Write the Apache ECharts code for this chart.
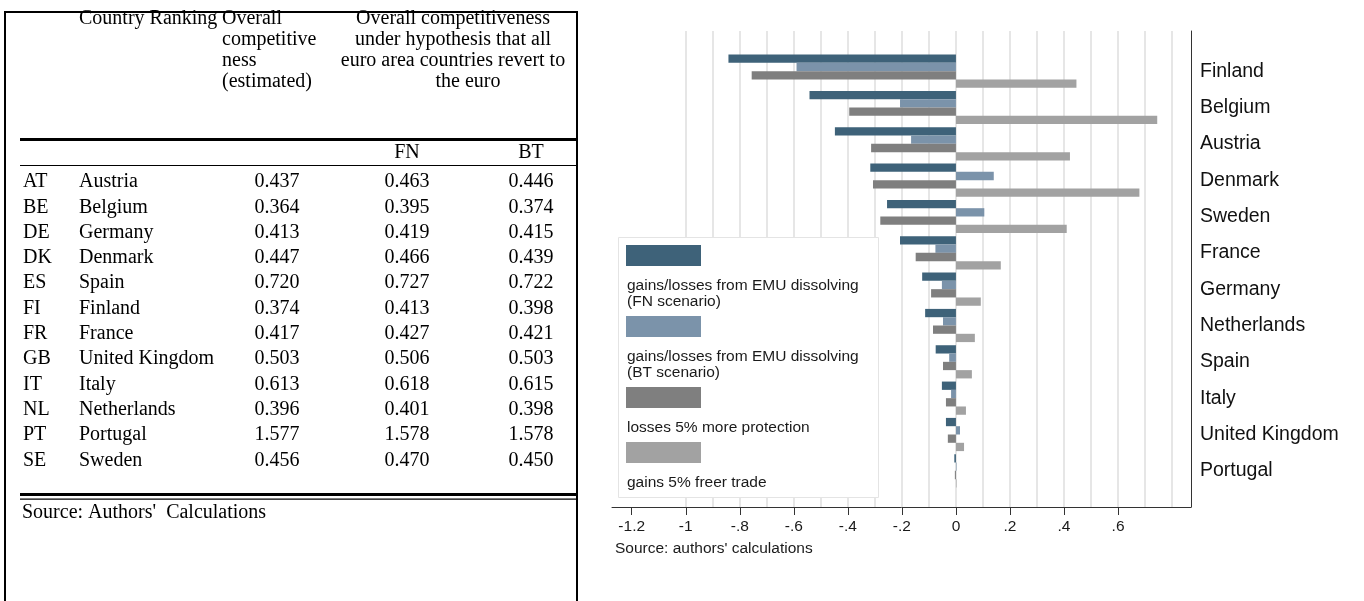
<!DOCTYPE html>
<html>
<head>
<meta charset="utf-8">
<script src="https://cdn.jsdelivr.net/npm/echarts@6/dist/echarts.min.js"></script>
<style>
  html, body { margin: 0; padding: 0; background: #fff; }
  #main { width: 1364px; height: 601px; }
</style>
</head>
<body>
<div id="main"></div>
<script>
// ---- Table: overall competitiveness by country ----
const tableCodes = ['AT', 'BE', 'DE', 'DK', 'ES', 'FI', 'FR', 'GB', 'IT', 'NL', 'PT', 'SE'];
const tableCountries = ['Austria', 'Belgium', 'Germany', 'Denmark', 'Spain', 'Finland', 'France',
  'United Kingdom', 'Italy', 'Netherlands', 'Portugal', 'Sweden'];
const overallEstimated = [0.437, 0.364, 0.413, 0.447, 0.720, 0.374, 0.417, 0.503, 0.613, 0.396, 1.577, 0.456];
const overallFN = [0.463, 0.395, 0.419, 0.466, 0.727, 0.413, 0.427, 0.506, 0.618, 0.401, 1.578, 0.470];
const overallBT = [0.446, 0.374, 0.415, 0.439, 0.722, 0.398, 0.421, 0.503, 0.615, 0.398, 1.578, 0.450];
const tableSource = "Source: Authors'  Calculations";

// ---- Bar chart: gains and losses by country ----
const categories = ['Finland', 'Belgium', 'Austria', 'Denmark', 'Sweden', 'France', 'Germany',
  'Netherlands', 'Spain', 'Italy', 'United Kingdom', 'Portugal'];
const emuFN = [-0.842, -0.542, -0.448, -0.317, -0.255, -0.207, -0.125, -0.114, -0.075, -0.052, -0.037, -0.006];
const emuBT = [-0.590, -0.207, -0.166, 0.140, 0.105, -0.076, -0.052, -0.048, -0.025, -0.018, 0.015, 0.002];
const moreProtection = [-0.756, -0.395, -0.314, -0.307, -0.280, -0.149, -0.092, -0.085, -0.048, -0.037, -0.030, -0.004];
const freerTrade = [0.446, 0.745, 0.422, 0.679, 0.410, 0.166, 0.092, 0.070, 0.059, 0.037, 0.030, 0.002];
const seriesNames = [
  'gains/losses from EMU dissolving\n(FN scenario)',
  'gains/losses from EMU dissolving\n(BT scenario)',
  'losses 5% more protection',
  'gains 5% freer trade'
];
const xTickValues = [-1.2, -1, -0.8, -0.6, -0.4, -0.2, 0, 0.2, 0.4, 0.6];
const xTickLabels = ['-1.2', '-1', '-.8', '-.6', '-.4', '-.2', '0', '.2', '.4', '.6'];
const xGridValues = [-1.0, -0.9, -0.8, -0.7, -0.6, -0.5, -0.4, -0.3, -0.2, -0.1, 0,
  0.1, 0.2, 0.3, 0.4, 0.5, 0.6, 0.7, 0.8];
const chartSource = "Source: authors' calculations";

// ---- styling ----
const SERIF = '"Liberation Serif", "Times New Roman", serif';
const SANS = '"Liberation Sans", Arial, Helvetica, sans-serif';
const barColors = ['#3e6279', '#7b93aa', '#7f7f7f', '#a2a2a2'];
const X_MIN = -1.273, X_MAX = 0.87;

const graphics = [];
function hline(x, y, w, h) {
  graphics.push({ type: 'rect', shape: { x: x, y: y, width: w, height: h }, style: { fill: '#000' }, z: 50 });
}
function txt(s, x, y, opts) {
  graphics.push({
    type: 'text', x: x, y: y, z: 50,
    style: Object.assign({ text: s, font: '20px ' + SERIF, fill: '#000', align: 'left', verticalAlign: 'middle' }, opts || {})
  });
}

// table frame
hline(4, 11, 574, 2);     // top
hline(4, 11, 2, 600);     // left
hline(576, 11, 2, 600);   // right

// header
txt('Country Ranking', 79, 19);
['Overall', 'competitive', 'ness', '(estimated)'].forEach((s, i) => txt(s, 222, 19 + i * 21));
['Overall competitiveness', 'under hypothesis that all', 'euro area countries revert to']
  .forEach((s, i) => txt(s, 453, 19 + i * 21, { align: 'center' }));
txt('the euro', 468, 82, { align: 'center' });
hline(20, 138, 557, 3);
txt('FN', 407, 153, { align: 'center' });
txt('BT', 531, 153, { align: 'center' });
hline(20, 165, 557, 1);

// rows
const rowY0 = 182, rowStep = 25.3;
tableCodes.forEach((code, i) => {
  const y = rowY0 + i * rowStep;
  txt(code, 23, y);
  txt(tableCountries[i], 79, y);
  txt(overallEstimated[i].toFixed(3), 277, y, { align: 'center' });
  txt(overallFN[i].toFixed(3), 407, y, { align: 'center' });
  txt(overallBT[i].toFixed(3), 531, y, { align: 'center' });
});
hline(20, 493, 557, 3);
hline(20, 498.5, 557, 1.2);
txt(tableSource, 22, 513);

// legend box for the bar chart
graphics.push({
  type: 'rect', z: 60,
  shape: { x: 618.5, y: 237.5, width: 260, height: 260 },
  style: { fill: '#fff', stroke: '#e4e4e4', lineWidth: 1 }
});
const legendSwatchY = [245, 316, 387, 442];
const legendTextY = [277, 348, 419, 474];
seriesNames.forEach((name, i) => {
  graphics.push({
    type: 'rect', z: 61,
    shape: { x: 626, y: legendSwatchY[i], width: 75, height: 21 },
    style: { fill: barColors[i] }
  });
  graphics.push({
    type: 'text', x: 627, y: legendTextY[i], z: 61,
    style: { text: name, font: '15.5px ' + SANS, fill: '#1a1a1a', align: 'left', verticalAlign: 'top', lineHeight: 16.5 }
  });
});
graphics.push({
  type: 'text', x: 615, y: 549, z: 61,
  style: { text: chartSource, font: '15.5px ' + SANS, fill: '#1a1a1a', align: 'left', verticalAlign: 'middle' }
});

const barSeries = [emuFN, emuBT, moreProtection, freerTrade].map((vals, i) => ({
  type: 'bar',
  name: seriesNames[i],
  xAxisIndex: 1,
  yAxisIndex: 1,
  data: vals,
  barWidth: 8.3,
  barGap: '0%',
  z: 5,
  silent: true,
  itemStyle: { color: barColors[i] }
}));

const option = {
  animation: false,
  backgroundColor: '#fff',
  grid: [
    { left: 612, right: 173, top: 31, bottom: 94 },
    { left: 612, right: 173, top: 53, bottom: 112 }
  ],
  xAxis: [
    {
      gridIndex: 0, type: 'value', min: X_MIN, max: X_MAX,
      axisLine: { show: true, onZero: false, lineStyle: { color: '#333', width: 1 } },
      axisTick: { show: true, customValues: xTickValues, length: 8, lineStyle: { color: '#333', width: 1 } },
      axisLabel: {
        customValues: xTickValues,
        formatter: v => {
          const k = xTickValues.findIndex(t => Math.abs(t - v) < 1e-9);
          return k >= 0 ? xTickLabels[k] : '';
        },
        fontSize: 15.5, fontFamily: SANS, color: '#1a1a1a', margin: 12
      },
      splitLine: { show: false }
    },
    { gridIndex: 1, type: 'value', min: X_MIN, max: X_MAX, show: false }
  ],
  yAxis: [
    {
      gridIndex: 0, type: 'value', min: 0, max: 1, position: 'right',
      axisLine: { show: true, onZero: false, lineStyle: { color: '#333', width: 1 } },
      axisTick: { show: false }, axisLabel: { show: false }, splitLine: { show: false }
    },
    {
      gridIndex: 1, type: 'category', data: categories, inverse: true, position: 'right',
      axisLine: { show: false, onZero: false }, axisTick: { show: false },
      axisLabel: { fontSize: 19.5, fontFamily: SANS, color: '#111', margin: 9 },
      splitLine: { show: false }
    }
  ],
  series: [
    {
      type: 'line', xAxisIndex: 0, yAxisIndex: 0, silent: true,
      data: [[X_MIN, 0]], symbol: 'none', lineStyle: { opacity: 0 }, z: 1,
      markLine: {
        silent: true, symbol: 'none', label: { show: false },
        lineStyle: { color: '#e6e6e6', width: 2, type: 'solid' },
        data: xGridValues.map(v => ({ xAxis: v }))
      }
    }
  ].concat(barSeries),
  graphic: graphics
};

const chart = echarts.init(document.getElementById('main'), null, { renderer: 'canvas' });
chart.setOption(option);
</script>
</body>
</html>
